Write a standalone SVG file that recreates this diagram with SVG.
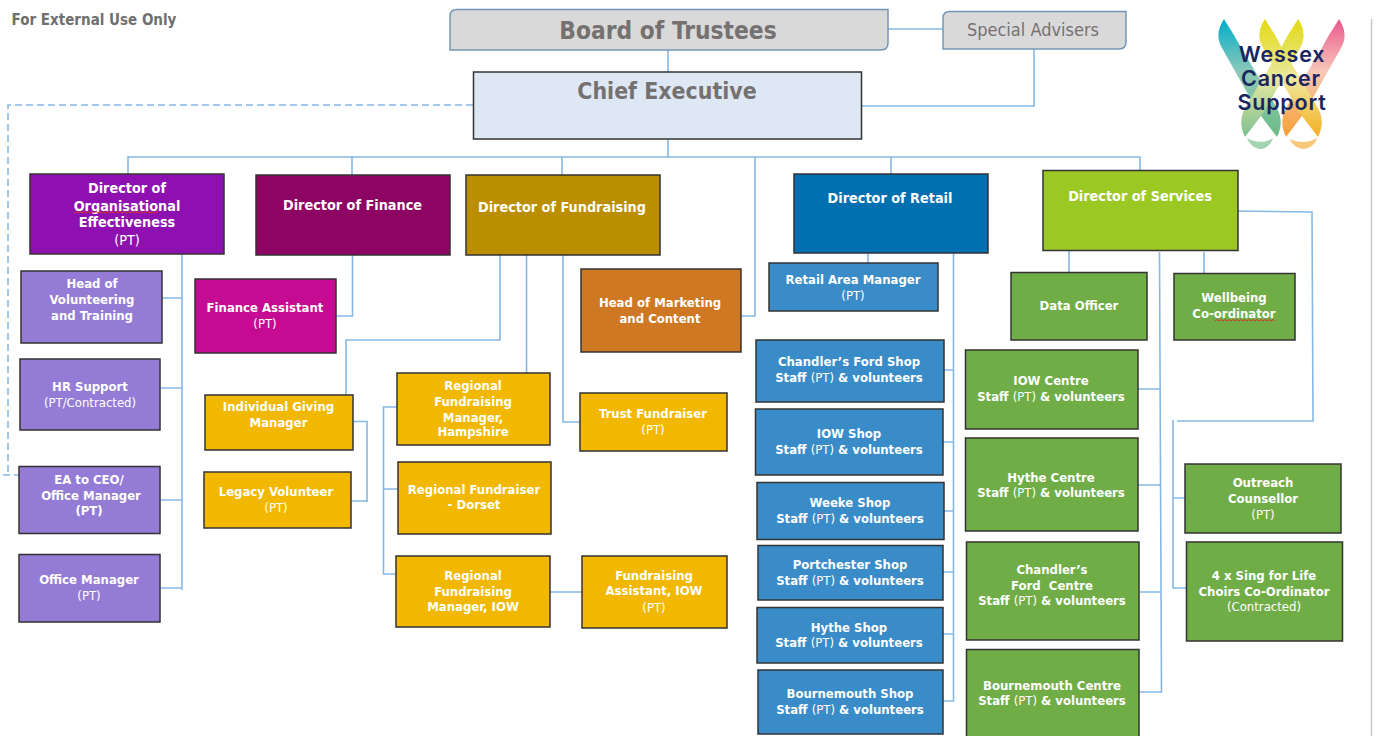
<svg xmlns="http://www.w3.org/2000/svg" width="1379" height="736" viewBox="0 0 1379 736">
<style>
text{font-family:"DejaVu Sans Condensed","DejaVu Sans","Liberation Sans",sans-serif;font-stretch:condensed;text-anchor:middle}
.b{font-size:13px;font-weight:700;fill:#fff}
.d{font-size:14.300px}
.r{font-weight:400}
.box{stroke:#333;stroke-width:1.5}
.pu{fill:#947bd6}.go{fill:#f2b800}.bl{fill:#3a8cc9}.gr{fill:#70ad47}
.c{fill:none;stroke:#86b8e6;stroke-width:1.6}
.w{fill:none;stroke:#d8352a;stroke-width:1}
.h{font-weight:700;fill:#767171}
.logo{font-family:"Inter",sans-serif;font-stretch:normal;font-size:21.5px;font-weight:600;letter-spacing:.8px;fill:#1a2560}
</style>
<defs>
<linearGradient id="ga" x1="0" y1="0" x2="0" y2="1"><stop offset="0" stop-color="#00aecb"/><stop offset=".45" stop-color="#8cc8b8"/><stop offset="1" stop-color="#6dbb85"/></linearGradient>
<linearGradient id="gb" x1="0" y1="0" x2="0" y2="1"><stop offset="0" stop-color="#e9588f"/><stop offset=".45" stop-color="#f8c8b8"/><stop offset="1" stop-color="#f5a030"/></linearGradient>
<linearGradient id="gc" x1="0" y1="0" x2="0" y2="1"><stop offset="0" stop-color="#e2da10"/><stop offset=".5" stop-color="#efe8a0"/><stop offset="1" stop-color="#f6b020"/></linearGradient>
<linearGradient id="gd" x1="0" y1="0" x2="0" y2="1"><stop offset="0" stop-color="#e2da10"/><stop offset=".5" stop-color="#e8e8a0"/><stop offset="1" stop-color="#7cc090"/></linearGradient>
</defs>
<rect width="1379" height="736" fill="#fff"/>
<path d="M1371.500 19V736" fill="none" stroke="#c8c8c8" stroke-width="1.500"/>
<text x="94" y="25" class="h" style="font-size:15px;fill:#6f6f6f">For External Use Only</text>

<g id="connectors">
<path class="c" d="M668 50V72M888 29H943M1034 49V106H862"/>
<path class="c" stroke-dasharray="7 4" d="M473 105H8V475M3 475H19"/>
<path class="c" d="M668 139V157M128 174V157H1140V170M352 157V175M562 157V175M755 157V316H741M891 157V174"/>
<path class="c" d="M182 254V590M162 298H182M160 388H182M160 500H182M160 588H182"/>
<path class="c" d="M352.500 255V316H336"/>
<path class="c" d="M500 255V340H346V395M526.500 255V373M563 255V422H580"/>
<path class="c" d="M353 421.500H367V502M351 501H367"/>
<path class="c" d="M397 407H383.500V574H396M384 489H398M550 592H582"/>
<path class="c" d="M868 253V263M953.500 253V701H943M944 370H953M943 442H953M944 511H953M943 572H953M943 634H953"/>
<path class="c" d="M1069 250V272M1204 252V277M1159.500 252L1161.500 692H1139M1138 389H1161M1138 485H1161M1139 592H1161"/>
<path class="c" d="M1238 211L1312 212L1313 421H1177M1173 420V588H1186M1173 498H1185"/>
</g>

<g id="board"><path d="M457 9.500H888V43Q888 50 881 50H450V16Q450 9.500 457 9.500Z" fill="#d9d9d9" stroke="#7396b8" stroke-width="1.500"/><text x="668" y="39" class="h" style="font-size:24.300px">Board of Trustees</text></g>
<g id="advisers"><path d="M950 11.500H1126V42Q1126 49 1119 49H943V18Q943 11.500 950 11.500Z" fill="#d9d9d9" stroke="#7396b8" stroke-width="1.500"/><text x="1033" y="36" class="h r" style="font-size:18px;font-weight:400">Special Advisers</text></g>
<g id="ceo"><rect class="box" x="473.500" y="72" width="388" height="67" fill="#dde8f4"/><text x="667" y="99" class="h" style="font-size:22.900px">Chief Executive</text></g>

<g id="logo">
<path d="M1224 19C1218 28 1216 38 1222 48L1258 112L1277 137C1282 126 1282 118 1277 108L1240 46C1234 34 1228 26 1224 19Z" fill="url(#ga)"/>
<path d="M1339 19C1345 28 1347 38 1341 48L1305 112L1286 137C1281 126 1281 118 1286 108L1323 46C1329 34 1335 26 1339 19Z" fill="url(#gb)"/>
<path d="M1265 19C1259 28 1257 38 1263 48L1299 112L1318 137C1323 126 1323 118 1318 108L1281 46C1275 34 1269 26 1265 19Z" fill="url(#gc)"/>
<path d="M1298 19C1304 28 1306 38 1300 48L1264 112L1245 137C1240 126 1240 118 1245 108L1282 46C1288 34 1294 26 1298 19Z" fill="url(#gd)"/>
<path d="M1247 138C1255 143 1266 143 1273 138C1271 145 1265 149 1260 149C1254 148 1249 144 1247 138Z" fill="#a5d5b0"/>
<path d="M1290 139C1298 143 1309 143 1317 138C1315 145 1309 149 1303 149C1297 148 1292 145 1290 139Z" fill="#f8c878"/>
<text class="logo" x="1282" y="62">Wessex</text><text class="logo" x="1281" y="86">Cancer</text><text class="logo" x="1282" y="110">Support</text>
</g>

<g id="d-oe"><rect class="box" x="30" y="174" width="194" height="80" fill="#8e10b0"/><text class="b d" x="127" y="193">Director of</text><text class="b d" x="127" y="211">Organisational</text><text class="b d" x="127" y="227">Effectiveness</text><text class="b d r" x="127" y="245">(PT)</text><path class="w" d="M74 213l2-1.500 2 1.500 2-1.500 2 1.500 2-1.500 2 1.500 2-1.500 2 1.500 2-1.500 2 1.500 2-1.500 2 1.500 2-1.500 2 1.500 2-1.500 2 1.500 2-1.500 2 1.500 2-1.500 2 1.500 2-1.500 2 1.500 2-1.500 2 1.500 2-1.500 2 1.500 2-1.500 2 1.500 2-1.500 2 1.500 2-1.500 2 1.500 2-1.500 2 1.500 2-1.500 2 1.500 2-1.500 2 1.500 2-1.500 2 1.500 2-1.500 2 1.500"/></g>
<g id="d-fin"><rect class="box" x="256" y="175" width="194" height="80" fill="#8e0462"/><text class="b d" x="352.500" y="210">Director of Finance</text></g>
<g id="d-fund"><rect class="box" x="466" y="175" width="194" height="80" fill="#bb8e00"/><text class="b d" x="562" y="212">Director of Fundraising</text></g>
<g id="d-ret"><rect class="box" x="794" y="174" width="194" height="79" fill="#0070b0"/><text class="b d" x="890" y="203">Director of Retail</text></g>
<g id="d-ser"><rect class="box" x="1043" y="170.500" width="195" height="80" fill="#9cc823"/><text class="b d" x="1140" y="201">Director of Services</text></g>

<g id="head-vol"><rect class="box pu" x="21" y="271" width="141" height="72"/><text class="b" x="92" y="288">Head of</text><text class="b" x="92" y="304">Volunteering</text><text class="b" x="92" y="320">and Training</text></g>
<g id="hr"><rect class="box pu" x="20" y="359" width="140" height="71"/><text class="b" x="90" y="391">HR Support</text><text class="b r" x="90" y="407">(PT/Contracted)</text></g>
<g id="ea"><rect class="box pu" x="19" y="466.500" width="141" height="67"/><text class="b" x="89" y="484">EA to CEO/</text><text class="b" x="91" y="500">Office Manager</text><text class="b" x="89" y="515">(PT)</text></g>
<g id="office"><rect class="box pu" x="19" y="554.500" width="141" height="67.500"/><text class="b" x="89" y="584">Office Manager</text><text class="b r" x="89" y="600">(PT)</text></g>

<g id="fin-asst"><rect class="box" x="195" y="279" width="141" height="74" fill="#c60b93"/><text class="b" x="265" y="312">Finance Assistant</text><text class="b r" x="265" y="328">(PT)</text></g>

<g id="igm"><rect class="box go" x="205" y="395" width="148" height="55"/><text class="b" x="278.500" y="411">Individual Giving</text><text class="b" x="278.500" y="427">Manager</text></g>
<g id="legacy"><rect class="box go" x="204" y="472" width="147" height="56"/><text class="b" x="276" y="496">Legacy Volunteer</text><text class="b r" x="276" y="512">(PT)</text></g>
<g id="rfm-h"><rect class="box go" x="397" y="373" width="153" height="72"/><text class="b" x="473" y="390">Regional</text><text class="b" x="473" y="406">Fundraising</text><text class="b" x="473" y="422">Manager,</text><text class="b" x="473" y="436">Hampshire</text></g>
<g id="rf-d"><rect class="box go" x="398" y="462" width="153" height="72"/><text class="b" x="474" y="494">Regional Fundraiser</text><text class="b" x="474" y="509">- Dorset</text></g>
<g id="rfm-i"><rect class="box go" x="396" y="556" width="154" height="71"/><text class="b" x="473" y="580">Regional</text><text class="b" x="473" y="596">Fundraising</text><text class="b" x="473" y="611">Manager, IOW</text></g>
<g id="fund-asst"><rect class="box go" x="582" y="556" width="145" height="72"/><text class="b" x="654" y="580">Fundraising</text><text class="b" x="654" y="595">Assistant, IOW</text><text class="b r" x="654" y="612">(PT)</text></g>
<g id="trust"><rect class="box go" x="580" y="393" width="147" height="58"/><text class="b" x="653" y="418">Trust Fundraiser</text><text class="b r" x="653" y="434">(PT)</text></g>
<g id="marketing"><rect class="box" x="581" y="269" width="160" height="83" fill="#cf7823"/><text class="b" x="660" y="307">Head of Marketing</text><text class="b" x="660" y="323">and Content</text></g>

<g id="area-mgr"><rect class="box bl" x="769" y="263" width="169" height="48"/><text class="b" x="853" y="284">Retail Area Manager</text><text class="b r" x="853" y="300">(PT)</text></g>
<g id="s-cf"><rect class="box bl" x="756" y="340" width="188" height="62"/><text class="b" x="849" y="366">Chandler’s Ford Shop</text><text class="b" x="849" y="382">Staff <tspan class="r">(PT)</tspan> &amp; volunteers</text></g>
<g id="s-iow"><rect class="box bl" x="755.500" y="409" width="187.500" height="66"/><text class="b" x="849" y="438">IOW Shop</text><text class="b" x="849" y="454">Staff <tspan class="r">(PT)</tspan> &amp; volunteers</text></g>
<g id="s-wk"><rect class="box bl" x="757" y="482.500" width="187" height="57"/><text class="b" x="850" y="507">Weeke Shop</text><text class="b" x="850" y="523">Staff <tspan class="r">(PT)</tspan> &amp; volunteers</text></g>
<g id="s-pc"><rect class="box bl" x="758" y="545.500" width="185" height="54.500"/><text class="b" x="850" y="569">Portchester Shop</text><text class="b" x="850" y="585">Staff <tspan class="r">(PT)</tspan> &amp; volunteers</text></g>
<g id="s-hy"><rect class="box bl" x="757" y="607.500" width="186" height="55.500"/><text class="b" x="849" y="632">Hythe Shop</text><text class="b" x="849" y="647">Staff <tspan class="r">(PT)</tspan> &amp; volunteers</text></g>
<g id="s-bm"><rect class="box bl" x="758" y="670" width="185" height="64"/><text class="b" x="850" y="698">Bournemouth Shop</text><text class="b" x="850" y="714">Staff <tspan class="r">(PT)</tspan> &amp; volunteers</text></g>

<g id="data"><rect class="box gr" x="1011" y="272.500" width="136" height="67.500"/><text class="b" x="1079" y="310">Data Officer</text></g>
<g id="wellbeing"><rect class="box gr" x="1174" y="273.500" width="121" height="66.500"/><text class="b" x="1234" y="302">Wellbeing</text><text class="b" x="1234" y="318">Co-ordinator</text><path class="w" d="M1215 321l2-1.500 2 1.500 2-1.500 2 1.500 2-1.500 2 1.500 2-1.500 2 1.500 2-1.500 2 1.500 2-1.500 2 1.500 2-1.500 2 1.500 2-1.500 2 1.500 2-1.500 2 1.500 2-1.500 2 1.500 2-1.500 2 1.500 2-1.500 2 1.500 2-1.500 2 1.500 2-1.500 2 1.500 2-1.500 2 1.500"/></g>
<g id="c-iow"><rect class="box gr" x="965.500" y="350" width="172.500" height="79"/><text class="b" x="1051" y="385">IOW Centre</text><text class="b" x="1051" y="401">Staff <tspan class="r">(PT)</tspan> &amp; volunteers</text></g>
<g id="c-hy"><rect class="box gr" x="965.500" y="438" width="172.500" height="93"/><text class="b" x="1051" y="482">Hythe Centre</text><text class="b" x="1051" y="497">Staff <tspan class="r">(PT)</tspan> &amp; volunteers</text></g>
<g id="c-cf"><rect class="box gr" x="966.500" y="542" width="172.500" height="98"/><text class="b" x="1052" y="574">Chandler’s</text><text class="b" x="1052" y="590" xml:space="preserve">Ford  Centre</text><text class="b" x="1052" y="605">Staff <tspan class="r">(PT)</tspan> &amp; volunteers</text></g>
<g id="c-bm"><rect class="box gr" x="966.500" y="649.500" width="172.500" height="90"/><text class="b" x="1052" y="690">Bournemouth Centre</text><text class="b" x="1052" y="705">Staff <tspan class="r">(PT)</tspan> &amp; volunteers</text></g>
<g id="outreach"><rect class="box gr" x="1185" y="464" width="156" height="69"/><text class="b" x="1263" y="487">Outreach</text><text class="b" x="1263" y="503">Counsellor</text><text class="b r" x="1263" y="519">(PT)</text></g>
<g id="choirs"><rect class="box gr" x="1186.500" y="542" width="156" height="99"/><text class="b" x="1264" y="580">4 x Sing for Life</text><text class="b" x="1264" y="596">Choirs Co-Ordinator</text><text class="b r" x="1264" y="611">(Contracted)</text></g>
</svg>
